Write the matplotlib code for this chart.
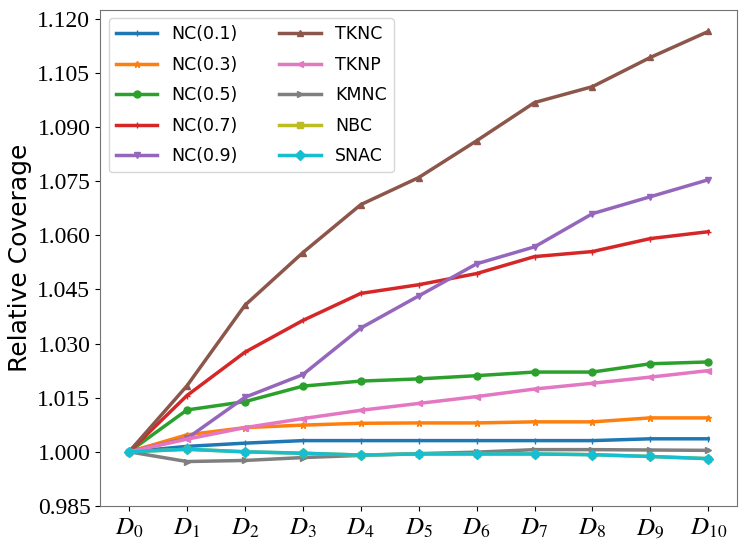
import numpy as np
import matplotlib
matplotlib.use("Agg")
import matplotlib.pyplot as plt

plt.rcParams['mathtext.fontset'] = 'stix'

# data
steps = [r'$D_{%d}$' % i for i in range(11)]
nc01 = [1.0, 1.0015, 1.0024, 1.0031, 1.0031, 1.0031, 1.0031, 1.0031, 1.0031, 1.0036, 1.0036]
nc03 = [1.0, 1.0047, 1.0067, 1.0074, 1.0079, 1.0080, 1.0080, 1.0083, 1.0083, 1.0094, 1.0094]
nc05 = [1.0, 1.0116, 1.0139, 1.0182, 1.0196, 1.0202, 1.0211, 1.0221, 1.0221, 1.0244, 1.0249]
nc07 = [1.0, 1.0156, 1.0276, 1.0364, 1.0439, 1.0463, 1.0494, 1.0541, 1.0555, 1.0591, 1.0610]
nc09 = [1.0, 1.0037, 1.0151, 1.0214, 1.0343, 1.0432, 1.0521, 1.0568, 1.0660, 1.0707, 1.0754]
tknc = [1.0, 1.0183, 1.0406, 1.0552, 1.0685, 1.0760, 1.0862, 1.0968, 1.1012, 1.1093, 1.1165]
tknp = [1.0, 1.0035, 1.0067, 1.0092, 1.0115, 1.0134, 1.0153, 1.0174, 1.0190, 1.0207, 1.0225]
kmnc = [1.0, 0.9973, 0.9976, 0.9984, 0.9990, 0.9995, 0.9999, 1.0006, 1.0006, 1.0005, 1.0004]
nbc = [1.0, 1.0007, 1.0, 0.9996, 0.9991, 0.9994, 0.9994, 0.9994, 0.9992, 0.9987, 0.9981]
snac = [1.0, 1.0007, 1.0, 0.9996, 0.9991, 0.9994, 0.9994, 0.9994, 0.9992, 0.9987, 0.9981]

series = [('NC(0.1)', nc01, '|'), ('NC(0.3)', nc03, '*'), ('NC(0.5)', nc05, 'o'),
          ('NC(0.7)', nc07, '+'), ('NC(0.9)', nc09, 'v'), ('TKNC', tknc, '^'),
          ('TKNP', tknp, '<'), ('KMNC', kmnc, '>'), ('NBC', nbc, 's'), ('SNAC', snac, 'D')]

fig = plt.figure(figsize=(7.47, 5.44), dpi=100)
ax = fig.add_axes([0.134, 0.07, 0.853, 0.912])
x = np.arange(len(steps))
for name, vals, mk in series:
    ax.plot(x, vals, marker=mk, markersize=5, linewidth=2.5, label=name)

ax.set_ylim(0.985, 1.1225)
ax.set_yticks(np.arange(0.985, 1.121, 0.015))
ax.set_yticklabels(['%.3f' % v for v in np.arange(0.985, 1.121, 0.015)])
ax.set_xticks(x)
ax.set_xticklabels(steps)
for lab in ax.get_yticklabels():
    lab.set_family('Liberation Serif')
    lab.set_fontsize(17)
for lab in ax.get_xticklabels():
    lab.set_fontsize(18)
for s in ax.spines.values():
    s.set_color('0.45')
ax.set_ylabel('Relative Coverage', fontsize=18)
ax.legend(ncol=2, fontsize=12.5, loc='upper left', labelspacing=0.72,
          handlelength=2.4, columnspacing=2.4)

plt.savefig('out.png')
